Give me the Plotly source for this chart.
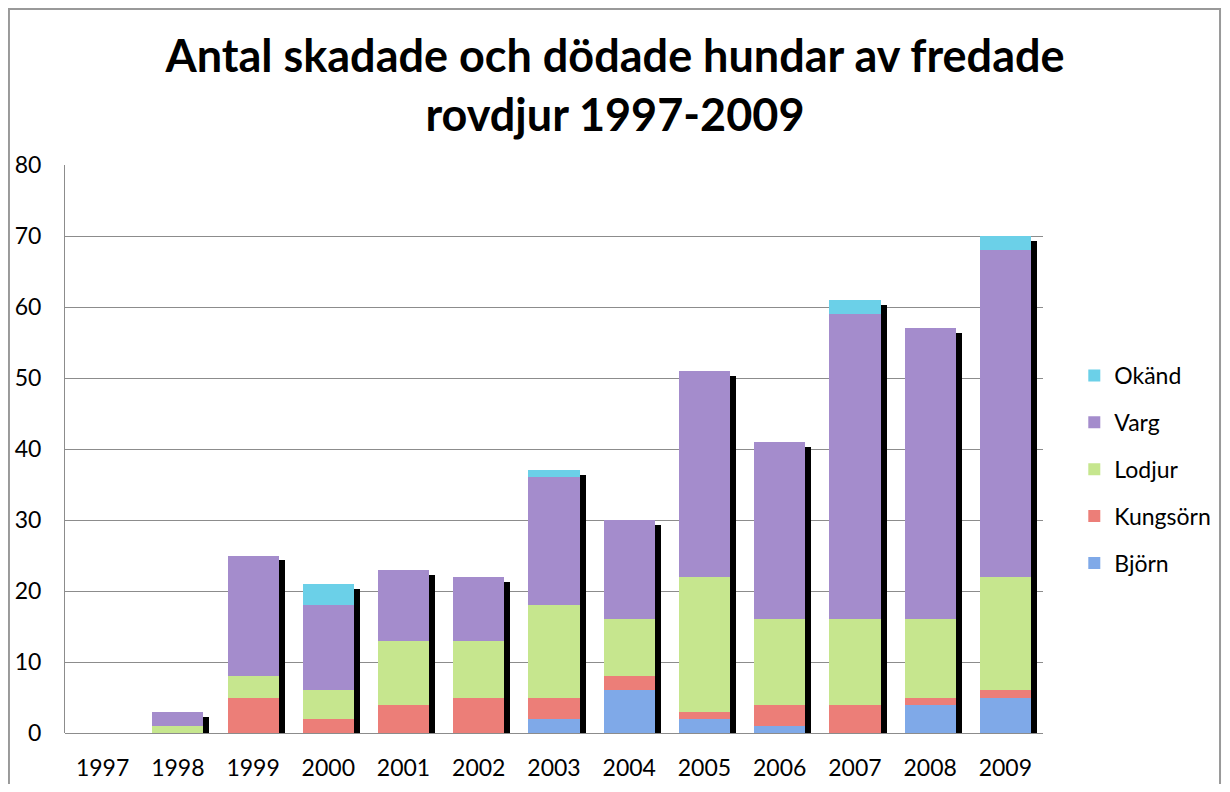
import plotly.graph_objects as go

years = ["1997", "1998", "1999", "2000", "2001", "2002", "2003", "2004", "2005", "2006", "2007", "2008", "2009"]
bjorn    = [0, 0, 0, 0, 0, 0, 2, 6, 2, 1, 0, 4, 5]
kungsorn = [0, 0, 5, 2, 4, 5, 3, 2, 1, 3, 4, 1, 1]
lodjur   = [0, 1, 3, 4, 9, 8, 13, 8, 19, 12, 12, 11, 16]
varg     = [0, 2, 17, 12, 10, 9, 18, 14, 29, 25, 43, 41, 46]
okand    = [0, 0, 0, 3, 0, 0, 1, 0, 0, 0, 2, 0, 2]

series = [
    ("Björn", bjorn, "#7FA9E8"),
    ("Kungsörn", kungsorn, "#EC7E78"),
    ("Lodjur", lodjur, "#C6E68E"),
    ("Varg", varg, "#A48CCC"),
    ("Okänd", okand, "#6BD0E8"),
]

totals = [sum(v) for v in zip(bjorn, kungsorn, lodjur, varg, okand)]
xi = list(range(len(years)))
bar_w = 0.68
shadow_dx = 0.08
shadow_drop = 0.7

fig = go.Figure()
fig.add_trace(go.Bar(
    x=xi, y=[t - shadow_drop if t > 0 else 0 for t in totals],
    width=bar_w, offset=-bar_w / 2 + shadow_dx,
    marker=dict(color="black", line=dict(width=0)),
    showlegend=False, hoverinfo="skip", xaxis="x", yaxis="y",
))
for i, (name, vals, col) in enumerate(series):
    fig.add_trace(go.Bar(
        x=xi, y=vals, name=name, width=bar_w,
        marker=dict(color=col, line=dict(width=0)),
        xaxis="x2", yaxis="y", legendgroup=name,
        legendrank=len(series) - i,
    ))

fig.update_layout(
    width=1214, height=776,
    barmode="stack",
    paper_bgcolor="white", plot_bgcolor="white",
    margin=dict(l=57, r=179, t=157, b=51, autoexpand=False),
    font=dict(family="Lato, 'Open Sans', sans-serif", color="black"),
    title=dict(
        text="<b>Antal skadade och dödade hundar av fredade<br>rovdjur 1997-2009</b>",
        x=0.5, xanchor="center", y=0.9175, yanchor="middle",
        font=dict(size=45, color="black"),
    ),
    xaxis=dict(
        range=[-0.5, 12.5], tickmode="array", tickvals=xi, ticktext=years,
        showgrid=False, showline=False, zeroline=False, automargin=False,
        tickfont=dict(size=23), ticks="", ticklen=0, ticklabelstandoff=19,
    ),
    xaxis2=dict(
        range=[-0.5, 12.5], overlaying="x", showticklabels=False,
        showgrid=False, showline=False, zeroline=False,
    ),
    yaxis=dict(
        range=[0, 80], dtick=10, showgrid=True, gridcolor="#8c8c8c", gridwidth=1,
        zeroline=True, zerolinecolor="#8c8c8c", zerolinewidth=1,
        showline=True, linecolor="#8c8c8c", linewidth=1, automargin=False,
        tickfont=dict(size=23), ticks="", ticklabelstandoff=18,
    ),
    legend=dict(
        x=1.032, xanchor="left", y=0.464, yanchor="middle",
        traceorder="grouped", tracegroupgap=14,
        font=dict(size=23), itemwidth=30,
    ),
    shapes=[dict(type="rect", xref="paper", yref="paper",
                 x0=-0.0573, x1=1.181, y0=-0.3, y1=1.2746,
                 line=dict(color="#999999", width=2))],
)

fig.write_html("out.html")
